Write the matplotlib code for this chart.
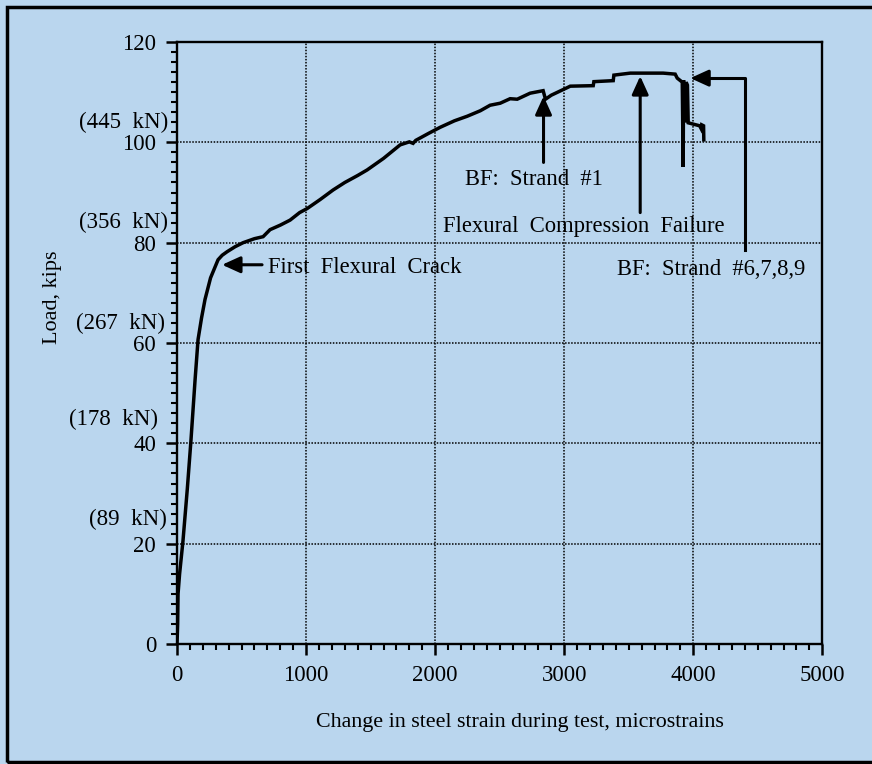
import numpy as np
import matplotlib.pyplot as plt
from matplotlib.patches import Rectangle
from matplotlib.ticker import MultipleLocator

plt.rcParams['font.family'] = ['Liberation Serif', 'DejaVu Serif']

# load-strain record (microstrain, kips)
strain = [0, 5, 8, 20, 46, 80, 108, 140, 163, 190, 217, 260, 318, 350, 388,
          450, 512, 600, 667, 721, 800, 876, 950, 1008, 1109, 1209, 1300,
          1400, 1473, 1600, 1729, 1800, 1829, 1850, 1950, 2039, 2150, 2248,
          2350, 2426, 2504, 2581, 2636, 2736, 2837, 2855, 2900, 3023, 3047,
          3225, 3230, 3380, 3385, 3512, 3767, 3860, 3876, 3915, 3922, 3925,
          3935, 3945, 3955, 3961, 4050, 4060, 4065, 4080, 4082]
load = [0, 4, 10, 14, 20.5, 31, 40.6, 52.7, 60.7, 65, 68.7, 73, 76.6, 77.5,
        78.2, 79.2, 80, 80.8, 81.2, 82.6, 83.5, 84.5, 86, 86.8, 88.6, 90.5,
        92, 93.4, 94.5, 96.8, 99.5, 100.1, 99.8, 100.4, 101.8, 103, 104.3,
        105.2, 106.3, 107.4, 107.8, 108.7, 108.6, 109.8, 110.3, 108.6, 109.4,
        110.9, 111.2, 111.3, 112.1, 112.3, 113.4, 113.8, 113.8, 113.6, 112.8,
        112, 95.1, 112.4, 104, 112, 111.4, 103.9, 103.3, 102.8, 103.5, 103.3,
        100.5]

x_ticks = [0, 1000, 2000, 3000, 4000, 5000]
y_ticks = [0, 20, 40, 60, 80, 100, 120]
kn_labels = ['(89  kN)', '(178  kN)', '(267  kN)', '(356  kN)', '(445  kN)']
kn_y = [24.9, 44.8, 64, 84, 104]
kn_xoff = [-10, -19, -12, -9, -9]

bg = '#bad6ee'
fig = plt.figure(figsize=(8.72, 7.64), dpi=100, facecolor=bg)
ax = fig.add_axes([0.203, 0.157, 0.740, 0.788])
ax.set_facecolor(bg)

ax.plot(strain, load, color='black', lw=2.5, solid_joinstyle='miter')

ax.set_xlim(0, 5000)
ax.set_ylim(0, 120)
ax.set_xticks(x_ticks)
ax.set_yticks(y_ticks)
ax.xaxis.set_minor_locator(MultipleLocator(100))
ax.yaxis.set_minor_locator(MultipleLocator(2))
ax.tick_params(which='major', direction='out', length=8, width=1.8,
               labelsize=16.5, pad=7)
ax.tick_params(which='minor', direction='out', length=4, width=1.5)
for s in ax.spines.values():
    s.set_linewidth(1.7)
ax.grid(True, which='major', color='black', lw=1.1, linestyle=(0, (1, 1)))

fig.text(520 / 872, 1 - 723 / 764,
         'Change in steel strain during test, microstrains', fontsize=15.8,
         ha='center', va='center')
fig.text(53 / 872, 1 - 297 / 764, 'Load, kips', rotation=90, fontsize=16,
         ha='center', va='center')

# metric equivalents beside the load axis
for lab, yv, dx in zip(kn_labels, kn_y, kn_xoff):
    ax.annotate(lab, xy=(0, yv), xycoords=('axes fraction', 'data'),
                xytext=(dx, 0), textcoords='offset pixels',
                ha='right', va='center', fontsize=16.5)

ap = dict(arrowstyle='-|>,head_length=1.1,head_width=0.5', color='black',
          lw=2.2, shrinkA=0, shrinkB=0)
fs = 16.3
ax.annotate('', xy=(349, 75.6), xytext=(659, 75.6), arrowprops=ap)
ax.text(705, 75.0, 'First  Flexural  Crack', fontsize=fs, va='center')

ax.annotate('', xy=(2840, 109.2), xytext=(2840, 96), arrowprops=ap)
ax.text(2233, 92.5, 'BF:  Strand  #1', fontsize=fs, va='center')

ax.annotate('', xy=(3589, 113.2), xytext=(3589, 86), arrowprops=ap)
ax.text(2062, 83.2, 'Flexural  Compression  Failure', fontsize=fs,
        va='center')

ax.plot([4403, 4403, 4100], [78.6, 112.8, 112.8], color='black', lw=2.2)
ax.annotate('', xy=(3977, 112.8), xytext=(4110, 112.8), arrowprops=ap)
ax.text(3411, 74.6, 'BF:  Strand  #6,7,8,9', fontsize=fs, va='center')

fig.patches.append(Rectangle((0.008, 0.003), 1.0, 0.988, transform=fig.transFigure,
                             fill=False, edgecolor='black', lw=2.5))

fig.savefig('out.png', dpi=100, facecolor=bg)
